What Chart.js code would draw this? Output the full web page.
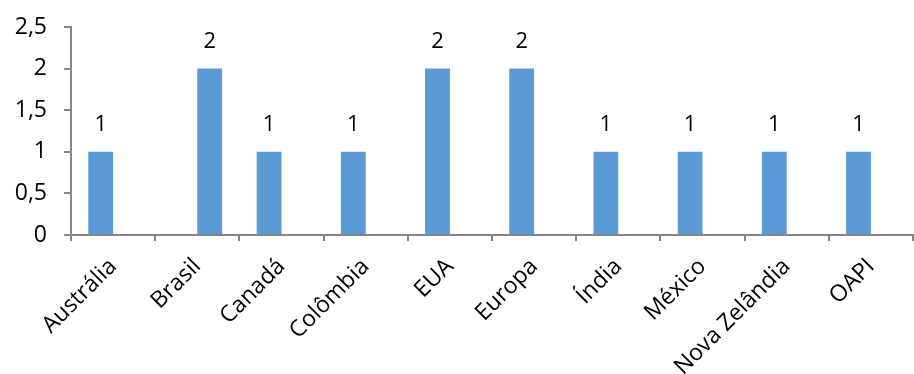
<!DOCTYPE html>
<html lang="pt">
<head>
  <meta charset="UTF-8">
  <title>Contagem por país</title>
  <script src="https://cdn.jsdelivr.net/npm/chart.js"></script>
  <style>
    html, body { margin: 0; padding: 0; background: #fff; }
    .wrap { width: 914px; height: 374px; }
  </style>
</head>
<body>
  <div class="wrap"><canvas id="chart" width="914" height="374"></canvas></div>
  <script>
    const categories = ['Austrália', 'Brasil', 'Canadá', 'Colômbia', 'EUA', 'Europa', 'Índia', 'México', 'Nova Zelândia', 'OAPI'];
    // two series in the original sheet; Brasil sits in the second slot
    const series1 = [1, null, 1, 1, 2, 2, 1, 1, 1, 1];
    const series2 = [null, 2, null, null, null, null, null, null, null, null];
    const yTicks = [0, 0.5, 1, 1.5, 2, 2.5];

    const fontFamily = "'Open Sans', 'Liberation Sans', sans-serif";
    const axisColor = '#868686';
    const barColor = '#5b9bd5';

    const fmt = v => String(v).replace('.', ',');

    // value labels above each bar
    const barLabels = {
      id: 'barLabels',
      afterDatasetsDraw(chart) {
        const ctx = chart.ctx;
        ctx.save();
        ctx.font = '22px ' + fontFamily;
        ctx.fillStyle = '#000';
        ctx.textAlign = 'center';
        ctx.textBaseline = 'middle';
        chart.data.datasets.forEach((ds, d) => {
          chart.getDatasetMeta(d).data.forEach((bar, i) => {
            if (ds.data[i] == null) return;
            ctx.fillText(fmt(ds.data[i]), bar.x, bar.y - 27);
          });
        });
        ctx.restore();
      }
    };

    new Chart(document.getElementById('chart'), {
      type: 'bar',
      data: {
        labels: categories,
        datasets: [
          { data: series1, backgroundColor: barColor, barPercentage: 1, categoryPercentage: 0.59 },
          { data: series2, backgroundColor: barColor, barPercentage: 1, categoryPercentage: 0.59 }
        ]
      },
      options: {
        responsive: false,
        animation: false,
        layout: { padding: { top: 27, right: 1, left: 0, bottom: 0 } },
        plugins: { legend: { display: false }, tooltip: { enabled: false } },
        scales: {
          x: {
            offset: true,
            grid: { offset: true, drawOnChartArea: false, color: axisColor, tickLength: 6, lineWidth: 2 },
            border: { color: axisColor, width: 2 },
            ticks: {
              color: '#000',
              font: { family: fontFamily, size: 23 },
              maxRotation: 45,
              minRotation: 45,
              autoSkip: false,
              padding: 12
            },
            afterFit(scale) { scale.height = 139; scale.paddingLeft = 0; scale.paddingRight = 0; }
          },
          y: {
            min: 0,
            max: 2.5,
            afterBuildTicks(scale) { scale.ticks = yTicks.map(v => ({ value: v })); },
            grid: { drawOnChartArea: false, color: axisColor, tickLength: 7, lineWidth: 2 },
            border: { color: axisColor, width: 2 },
            ticks: {
              color: '#000',
              font: { family: fontFamily, size: 23 },
              padding: 17,
              callback: v => fmt(v)
            },
            afterFit(scale) { scale.width = 71; scale.paddingTop = 0; scale.paddingBottom = 0; }
          }
        }
      },
      plugins: [barLabels]
    });
  </script>
</body>
</html>
